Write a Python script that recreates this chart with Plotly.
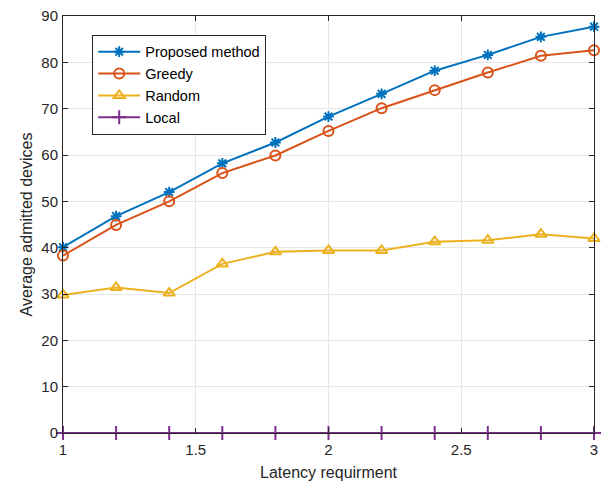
import plotly.graph_objects as go

latency = [1.0, 1.2, 1.4, 1.6, 1.8, 2.0, 2.2, 2.4, 2.6, 2.8, 3.0]
proposed = [40.1, 46.8, 52.0, 58.2, 62.7, 68.3, 73.2, 78.2, 81.6, 85.5, 87.7]
greedy = [38.3, 44.9, 50.0, 56.1, 59.9, 65.2, 70.1, 74.0, 77.8, 81.4, 82.6]
random_ = [29.8, 31.4, 30.2, 36.5, 39.1, 39.4, 39.4, 41.3, 41.6, 42.9, 42.0]
local = [0, 0, 0, 0, 0, 0, 0, 0, 0, 0, 0]

series = [
    ("Proposed method", proposed, "#0072BD", "asterisk-open", 9),
    ("Greedy", greedy, "#D95319", "circle-open", 10),
    ("Random", random_, "#EDB120", "triangle-up-open", 10),
    ("Local", local, "#7E2F8E", "cross-thin-open", 10),
]

fig = go.Figure()
for name, vals, color, sym, sz in series:
    fig.add_trace(go.Scatter(
        x=latency, y=vals, name=name, mode="lines+markers",
        line=dict(color=color, width=2),
        marker=dict(symbol=sym, size=sz, color=color, line=dict(color=color, width=2)),
        cliponaxis=False,
    ))

axis_common = dict(
    showline=True, linecolor="#262626", linewidth=1, mirror="ticks",
    ticks="inside", ticklen=5, tickcolor="#262626",
    showgrid=True, gridcolor="#E6E6E6", gridwidth=1, zeroline=False,
    automargin=False,
    tickfont=dict(family="Liberation Sans, Arial", size=15, color="#262626"),
)

fig.update_layout(
    width=610, height=483,
    margin=dict(l=63, r=16, t=16, b=50),
    paper_bgcolor="white", plot_bgcolor="white",
    font=dict(family="Liberation Sans, Arial", color="#262626"),
    xaxis=dict(range=[1, 3], tickvals=[1, 1.5, 2, 2.5, 3], ticktext=["1", "1.5", "2", "2.5", "3"],
               ticklabelstandoff=3,
               title=dict(text="Latency requirment", font=dict(size=16, color="#262626"), standoff=9),
               **axis_common),
    yaxis=dict(range=[0, 90], dtick=10, ticklabelstandoff=1,
               title=dict(text="Average admitted devices", font=dict(size=16, color="#262626"), standoff=4),
               **axis_common),
    legend=dict(x=0.055, y=0.955, xanchor="left", yanchor="top",
                bgcolor="white", bordercolor="#262626", borderwidth=1,
                font=dict(size=14.5, color="#000000"), tracegroupgap=0, itemwidth=42),
    showlegend=True,
)

fig.write_html("out.html")
